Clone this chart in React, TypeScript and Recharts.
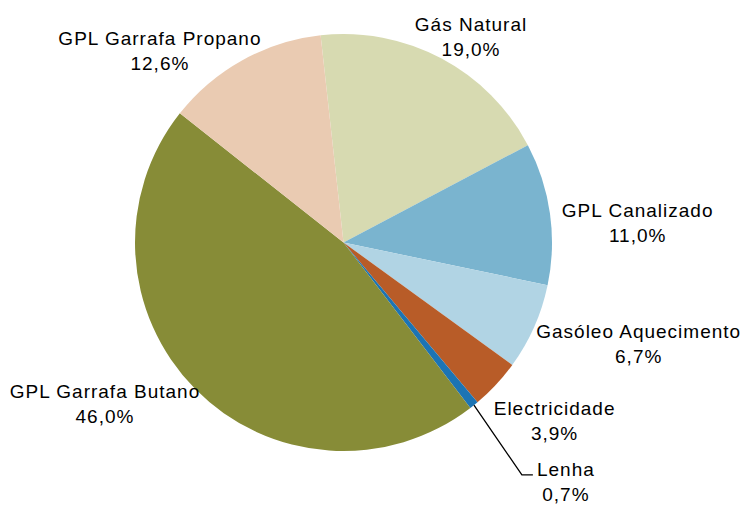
import React from 'react';
import { PieChart, Pie, Cell } from 'recharts';

const categories = [
  'Gás Natural',
  'GPL Canalizado',
  'Gasóleo Aquecimento',
  'Electricidade',
  'Lenha',
  'GPL Garrafa Butano',
  'GPL Garrafa Propano',
];
const shares = [19.0, 11.0, 6.7, 3.9, 0.7, 46.0, 12.6];
const colors = ['#D7DAB1', '#7AB4CF', '#B1D4E4', '#B85C28', '#1C74B4', '#878C37', '#EACBB2'];

// label placement relative to slice mid-angle: [angle shift clockwise (deg), extra radius (px)]
const labelShift: [number, number][] = [
  [4.7, 28],
  [5.4, 86],
  [-3.7, 106],
  [-1.8, 72],
  [-3.4, 123],
  [9.5, 83],
  [-15.8, 52],
];
const hasLeader = [false, false, false, false, true, false, false];

const data = categories.map((name, i) => ({ name, value: shares[i] }));

const RAD = Math.PI / 180;
const FONT = '"Liberation Sans", Arial, sans-serif';

const fmt = (v: number) => v.toFixed(1).replace('.', ',') + '%';

const renderLabel = (props: any) => {
  const { cx, cy, midAngle, outerRadius, index } = props;
  const [shift, extra] = labelShift[index];
  const ang = midAngle - shift;
  const r = outerRadius + extra;
  const x = cx + r * Math.cos(-ang * RAD);
  const y = cy + r * Math.sin(-ang * RAD);
  const name = categories[index];
  const textStyle = { fontFamily: FONT, fontSize: 19, letterSpacing: 1, fill: '#000' };
  let leader = null;
  if (hasLeader[index]) {
    const sx = cx + outerRadius * Math.cos(-midAngle * RAD);
    const sy = cy + outerRadius * Math.sin(-midAngle * RAD);
    const halfW = 28;
    const ex = x - halfW - 5;
    const ey = y - 13.5;
    leader = (
      <polyline
        points={`${sx},${sy} ${ex - 11},${ey} ${ex},${ey}`}
        fill="none"
        stroke="#000"
        strokeWidth={1.3}
      />
    );
  }
  return (
    <g key={`lbl-${index}`}>
      {leader}
      <text x={x} y={y - 12.5} textAnchor="middle" style={textStyle}>
        {name}
      </text>
      <text x={x} y={y + 12.5} textAnchor="middle" style={textStyle}>
        {fmt(shares[index])}
      </text>
    </g>
  );
};

export default function App() {
  return (
    <div style={{ position: 'absolute', left: 0, top: 0, width: 745, height: 505, background: '#fff' }}>
      <PieChart width={745} height={505} margin={{ top: 0, right: 0, bottom: 0, left: 0 }}>
        <Pie
          data={data}
          dataKey="value"
          nameKey="name"
          cx={343.5}
          cy={242.5}
          outerRadius={208.5}
          startAngle={96.3}
          endAngle={-263.7}
          stroke="none"
          label={renderLabel}
          labelLine={false}
          isAnimationActive={false}
        >
          {data.map((d, i) => (
            <Cell key={d.name} fill={colors[i]} />
          ))}
        </Pie>
      </PieChart>
    </div>
  );
}
